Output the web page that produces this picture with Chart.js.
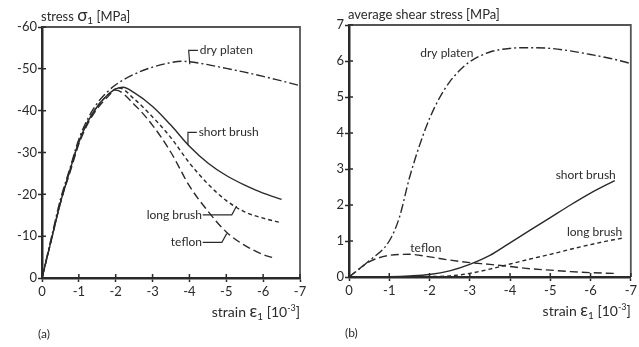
<!DOCTYPE html>
<html>
<head>
<meta charset="utf-8">
<script src="https://cdn.jsdelivr.net/npm/chart.js@4.4.1/dist/chart.umd.min.js"></script>
<style>
  body { margin: 0; background: #fff; }
  #wrapA { position: absolute; left: 0; top: 0; width: 320px; height: 347px; }
  #wrapB { position: absolute; left: 320px; top: 0; width: 319px; height: 347px; }
</style>
</head>
<body>
<div id="wrapA"><canvas id="chartA"></canvas></div>
<div id="wrapB"><canvas id="chartB"></canvas></div>
<script>
// ---- (a) stress sigma1 vs strain eps1 ----
const aTicksY = [-60, -50, -40, -30, -20, -10, 0];
const aTicksX = [0, -1, -2, -3, -4, -5, -6, -7];

const aDryStrain = [0, -0.25, -0.5, -0.75, -1, -1.25, -1.5, -1.75, -2, -2.5, -3, -3.5, -3.8, -4, -4.5, -5, -5.5, -6, -6.5, -7];
const aDryStress = [0, -9.5, -18.8, -26, -33.2, -38.2, -41.8, -44.3, -46.2, -48.7, -50.4, -51.5, -51.8, -51.7, -51, -50.1, -49.2, -48.2, -47.1, -46];

const aShortStrain = [0, -0.25, -0.5, -0.75, -1, -1.25, -1.5, -1.75, -2, -2.2, -2.5, -3, -3.5, -4, -4.5, -5, -5.5, -6, -6.5];
const aShortStress = [0, -9, -18, -25.5, -32.5, -37.5, -41, -43.5, -45.2, -45.6, -44.3, -41, -36.5, -31.5, -27.5, -24.5, -22.2, -20.3, -18.8];

const aLongStrain = [0, -0.25, -0.5, -0.75, -1, -1.25, -1.5, -1.75, -2, -2.1, -2.5, -3, -3.5, -4, -4.5, -5, -5.5, -6, -6.5];
const aLongStress = [0, -9, -18, -25.5, -32.5, -37.5, -41, -43.5, -45.2, -45.4, -42.8, -38.5, -33.5, -27.5, -22.5, -18.5, -15.8, -14.3, -13.2];

const aTeflonStrain = [0, -0.25, -0.5, -0.75, -1, -1.25, -1.5, -1.75, -2, -2.5, -3, -3.5, -4, -4.5, -5, -5.5, -6, -6.25];
const aTeflonStress = [0, -9, -18, -25, -32, -37, -40.5, -43, -44.9, -41.5, -36.5, -30, -22, -16, -11, -7.8, -5.6, -4.9];

// ---- (b) average shear stress vs strain eps1 ----
const bTicksY = [0, 1, 2, 3, 4, 5, 6, 7];
const bTicksX = [0, -1, -2, -3, -4, -5, -6, -7];

const bDryStrain = [0, -0.5, -1, -1.25, -1.5, -1.75, -2, -2.25, -2.5, -2.75, -3, -3.5, -4, -4.5, -5, -5.5, -6, -6.5, -7];
const bDryShear = [0, 0.45, 1.0, 1.65, 2.75, 3.65, 4.4, 4.98, 5.42, 5.74, 5.98, 6.25, 6.35, 6.37, 6.35, 6.28, 6.18, 6.07, 5.93];

const bShortStrain = [0, -1, -1.5, -2, -2.5, -3, -3.5, -4, -4.5, -5, -5.5, -6, -6.6];
const bShortShear = [0, 0.01, 0.03, 0.07, 0.17, 0.35, 0.6, 0.95, 1.3, 1.65, 2.0, 2.33, 2.68];

const bLongStrain = [0, -1, -2, -2.5, -3, -3.5, -4, -4.5, -5, -5.5, -6, -6.5, -6.8];
const bLongShear = [0, 0, 0.01, 0.03, 0.1, 0.22, 0.36, 0.5, 0.63, 0.77, 0.9, 1.02, 1.08];

const bTeflonStrain = [0, -0.5, -1, -1.5, -2, -2.5, -3, -3.5, -4, -4.5, -5, -5.5, -6, -6.6];
const bTeflonShear = [0, 0.42, 0.6, 0.63, 0.56, 0.47, 0.4, 0.35, 0.29, 0.23, 0.19, 0.15, 0.12, 0.1];

const FONT = "Lato, 'Open Sans', sans-serif";
const INK = '#2a2a2a';

function pts(xs, ys) {
    return xs.map(function(x, i) { return { x: x, y: ys[i] }; });
}

function line(label, xs, ys, dash) {
    return {
        label: label,
        data: pts(xs, ys),
        showLine: true,
        borderColor: INK,
        borderWidth: 1.4,
        borderDash: dash,
        pointRadius: 0,
        cubicInterpolationMode: 'monotone',
        fill: false
    };
}

// draws text made of parts (sub/superscripts)
function richText(ctx, parts, x, y, align) {
    let w = 0;
    parts.forEach(function(p) {
        ctx.font = p.size + 'px ' + FONT;
        w += ctx.measureText(p.t).width;
    });
    let cx = align === 'right' ? x - w : x;
    ctx.textBaseline = 'alphabetic';
    ctx.textAlign = 'left';
    parts.forEach(function(p) {
        ctx.font = p.size + 'px ' + FONT;
        ctx.fillText(p.t, cx, y + (p.dy || 0));
        cx += ctx.measureText(p.t).width;
    });
}

const decor = {
    id: 'decor',
    afterDatasetsDraw: function(chart, args, opts) {
        const ctx = chart.ctx;
        const a = chart.chartArea;
        const sx = chart.scales.x, sy = chart.scales.y;
        ctx.save();
        // upper and right frame
        ctx.strokeStyle = '#555';
        ctx.lineWidth = 1.8;
        ctx.beginPath();
        ctx.moveTo(a.left, a.top);
        ctx.lineTo(a.right, a.top);
        ctx.lineTo(a.right, a.bottom);
        ctx.stroke();
        // inward ticks
        ctx.strokeStyle = INK;
        ctx.lineWidth = 1.5;
        ctx.beginPath();
        sx.ticks.forEach(function(t) {
            const px = sx.getPixelForValue(t.value);
            ctx.moveTo(px, a.bottom);
            ctx.lineTo(px, a.bottom - 4);
        });
        sy.ticks.forEach(function(t) {
            const py = sy.getPixelForValue(t.value);
            ctx.moveTo(a.left, py);
            ctx.lineTo(a.left + 4, py);
        });
        ctx.stroke();
        // curve labels with leaders
        ctx.fillStyle = INK;
        opts.notes.forEach(function(n) {
            const px = sx.getPixelForValue(n.x), py = sy.getPixelForValue(n.y);
            ctx.font = '12px ' + FONT;
            ctx.textAlign = n.align;
            ctx.textBaseline = 'middle';
            ctx.fillText(n.text, px, py);
            if (n.leader) {
                ctx.lineWidth = 1.2;
                ctx.beginPath();
                n.leader.forEach(function(p, i) {
                    const lx = sx.getPixelForValue(p[0]), ly = sy.getPixelForValue(p[1]);
                    if (i === 0) ctx.moveTo(lx, ly); else ctx.lineTo(lx, ly);
                });
                ctx.stroke();
            }
        });
        // axis titles and panel tag
        ctx.fillStyle = INK;
        richText(ctx, opts.yTitle, a.left - 1, a.top - 6, 'left');
        richText(ctx, opts.xTitle, a.right, a.bottom + 39, 'right');
        ctx.font = '12px ' + FONT;
        ctx.textAlign = 'left';
        ctx.textBaseline = 'alphabetic';
        ctx.fillText(opts.tag, a.left - 4, a.bottom + 60);
        ctx.restore();
    }
};

function scales(xTicks, yTicks, yWidth, xHeight) {
    const tickFont = { family: FONT, size: 13 };
    return {
        x: {
            type: 'linear',
            reverse: true,
            min: Math.min.apply(null, xTicks),
            max: Math.max.apply(null, xTicks),
            afterBuildTicks: function(s) { s.ticks = xTicks.map(function(v) { return { value: v }; }); },
            afterFit: function(s) { s.height = xHeight; },
            border: { display: true, width: 2.5, color: INK },
            grid: { drawOnChartArea: false, tickLength: 4, tickWidth: 1.5, tickColor: INK },
            ticks: { color: INK, font: tickFont, padding: 2, maxRotation: 0 }
        },
        y: {
            type: 'linear',
            reverse: yTicks[0] < 0,
            min: Math.min.apply(null, yTicks),
            max: Math.max.apply(null, yTicks),
            afterBuildTicks: function(s) { s.ticks = yTicks.map(function(v) { return { value: v }; }); },
            afterFit: function(s) { s.width = yWidth; },
            border: { display: true, width: 2.5, color: INK },
            grid: { drawOnChartArea: false, tickLength: 4, tickWidth: 1.5, tickColor: INK },
            ticks: { color: INK, font: tickFont, padding: 1 }
        }
    };
}

const strainTitle = [
    { t: 'strain ', size: 14 }, { t: '\u03b5', size: 17 }, { t: '1', size: 10, dy: 3 },
    { t: ' [10', size: 14 }, { t: '-3', size: 9, dy: -6 }, { t: ']', size: 14 }
];

new Chart(document.getElementById('chartA'), {
    type: 'scatter',
    data: {
        datasets: [
            line('dry platen', aDryStrain, aDryStress, [9, 3, 2, 3]),
            line('short brush', aShortStrain, aShortStress, []),
            line('long brush', aLongStrain, aLongStress, [4, 3]),
            line('teflon', aTeflonStrain, aTeflonStress, [8, 4])
        ]
    },
    options: {
        responsive: true,
        maintainAspectRatio: false,
        animation: false,
        layout: { padding: { top: 27, right: 20, left: 0, bottom: 0 } },
        scales: scales(aTicksX, aTicksY, 42, 69),
        plugins: {
            legend: { display: false },
            tooltip: { enabled: false },
            decor: {
                tag: '(a)',
                yTitle: [{ t: 'stress ', size: 13 }, { t: '\u03c3', size: 17 }, { t: '1', size: 10, dy: 3 }, { t: ' [MPa]', size: 13 }],
                xTitle: strainTitle,
                notes: [
                    { text: 'dry platen', x: -4.28, y: -54.4, align: 'left', leader: [[-4.23, -54.4], [-3.98, -54.4], [-4.01, -51.1]] },
                    { text: 'short brush', x: -4.25, y: -34.8, align: 'left', leader: [[-4.2, -34.8], [-3.96, -34.8], [-3.96, -31.8]] },
                    { text: 'long brush', x: -4.34, y: -15.1, align: 'right', leader: [[-4.36, -15.1], [-5.15, -15.1], [-5.28, -17.2]] },
                    { text: 'teflon', x: -4.34, y: -8.5, align: 'right', leader: [[-4.36, -8.5], [-4.88, -8.5], [-5.01, -10.6]] }
                ]
            }
        }
    },
    plugins: [decor]
});

new Chart(document.getElementById('chartB'), {
    type: 'scatter',
    data: {
        datasets: [
            line('dry platen', bDryStrain, bDryShear, [9, 3, 2, 3]),
            line('short brush', bShortStrain, bShortShear, []),
            line('long brush', bLongStrain, bLongShear, [4, 3]),
            line('teflon', bTeflonStrain, bTeflonShear, [8, 4])
        ]
    },
    options: {
        responsive: true,
        maintainAspectRatio: false,
        animation: false,
        layout: { padding: { top: 25, right: 4, left: 0, bottom: 0 } },
        scales: scales(bTicksX, bTicksY, 29, 70),
        plugins: {
            legend: { display: false },
            tooltip: { enabled: false },
            decor: {
                tag: '(b)',
                yTitle: [{ t: 'average shear stress [MPa]', size: 13 }],
                xTitle: strainTitle,
                notes: [
                    { text: 'dry platen', x: -2.43, y: 6.22, align: 'center' },
                    { text: 'short brush', x: -5.88, y: 2.83, align: 'center' },
                    { text: 'long brush', x: -6.1, y: 1.25, align: 'center' },
                    { text: 'teflon', x: -1.91, y: 0.8, align: 'center' }
                ]
            }
        }
    },
    plugins: [decor]
});
</script>
</body>
</html>
